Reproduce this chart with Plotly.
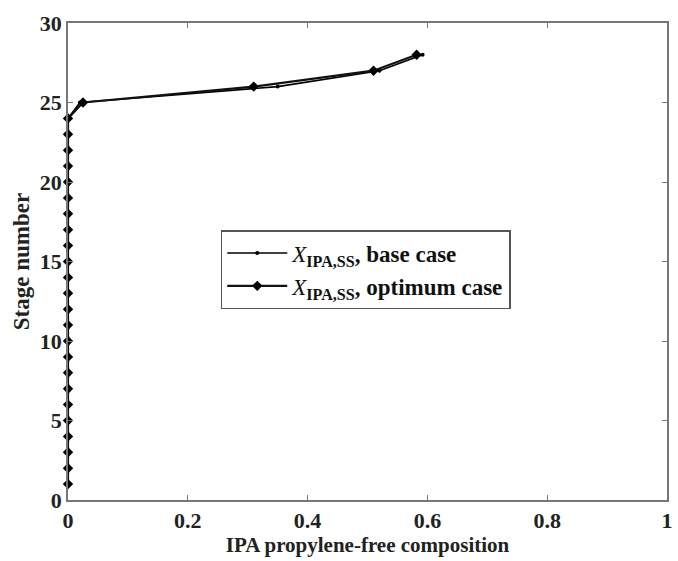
import plotly.graph_objects as go

# Stage-by-stage IPA propylene-free composition profiles
stages = list(range(1, 29))
x_base = [0.0] * 24 + [0.020, 0.350, 0.520, 0.592]
x_opt = [0.0] * 24 + [0.025, 0.310, 0.510, 0.582]

series_names = [
    "<i>X</i><sub><b>IPA,SS</b></sub><b>, base case</b>",
    "<i>X</i><sub><b>IPA,SS</b></sub><b>, optimum case</b>",
]

x_ticks = [0, 0.2, 0.4, 0.6, 0.8, 1]
x_tick_text = ["0", "0.2", "0.4", "0.6", "0.8", "1"]
y_ticks = [0, 5, 10, 15, 20, 25, 30]

FONT = "Liberation Serif, Times New Roman, serif"
TEXT = "#222222"

fig = go.Figure()
fig.add_trace(go.Scatter(
    x=x_base, y=stages, mode="lines+markers", name=series_names[0],
    line=dict(color="black", width=1.6),
    marker=dict(symbol="circle", size=4, color="black"),
    cliponaxis=False,
))
fig.add_trace(go.Scatter(
    x=x_opt, y=stages, mode="lines+markers", name=series_names[1],
    line=dict(color="#111111", width=2.2),
    marker=dict(symbol="diamond", size=8, color="black"),
    cliponaxis=False,
))

axis_common = dict(
    showline=True, linecolor="#777777", linewidth=1.5, mirror="ticks",
    ticks="inside", ticklen=5, tickcolor="#777777", showgrid=False, zeroline=False,
    tickfont=dict(family=FONT, size=22, color=TEXT, weight="bold"),
)

fig.update_layout(
    width=678, height=561,
    margin=dict(l=68, r=5, t=23, b=61),
    paper_bgcolor="white", plot_bgcolor="white",
    font=dict(family=FONT, color=TEXT),
    showlegend=True,
    legend=dict(
        x=0.255, y=0.566, xanchor="left", yanchor="top",
        bordercolor="#555555", borderwidth=1.5, bgcolor="white",
        font=dict(family=FONT, size=23, color="#111111"),
        tracegroupgap=0, itemwidth=60,
    ),
    xaxis=dict(
        range=[0, 1], tickvals=x_ticks, ticktext=x_tick_text,
        title=dict(text="IPA propylene-free composition",
                   font=dict(family=FONT, size=21, color=TEXT, weight="bold"), standoff=2),
        **axis_common,
    ),
    yaxis=dict(
        range=[0, 30], tickvals=y_ticks,
        title=dict(text="Stage number",
                   font=dict(family=FONT, size=23, color=TEXT, weight="bold"), standoff=4),
        **axis_common,
    ),
)

fig.write_html("out.html")
